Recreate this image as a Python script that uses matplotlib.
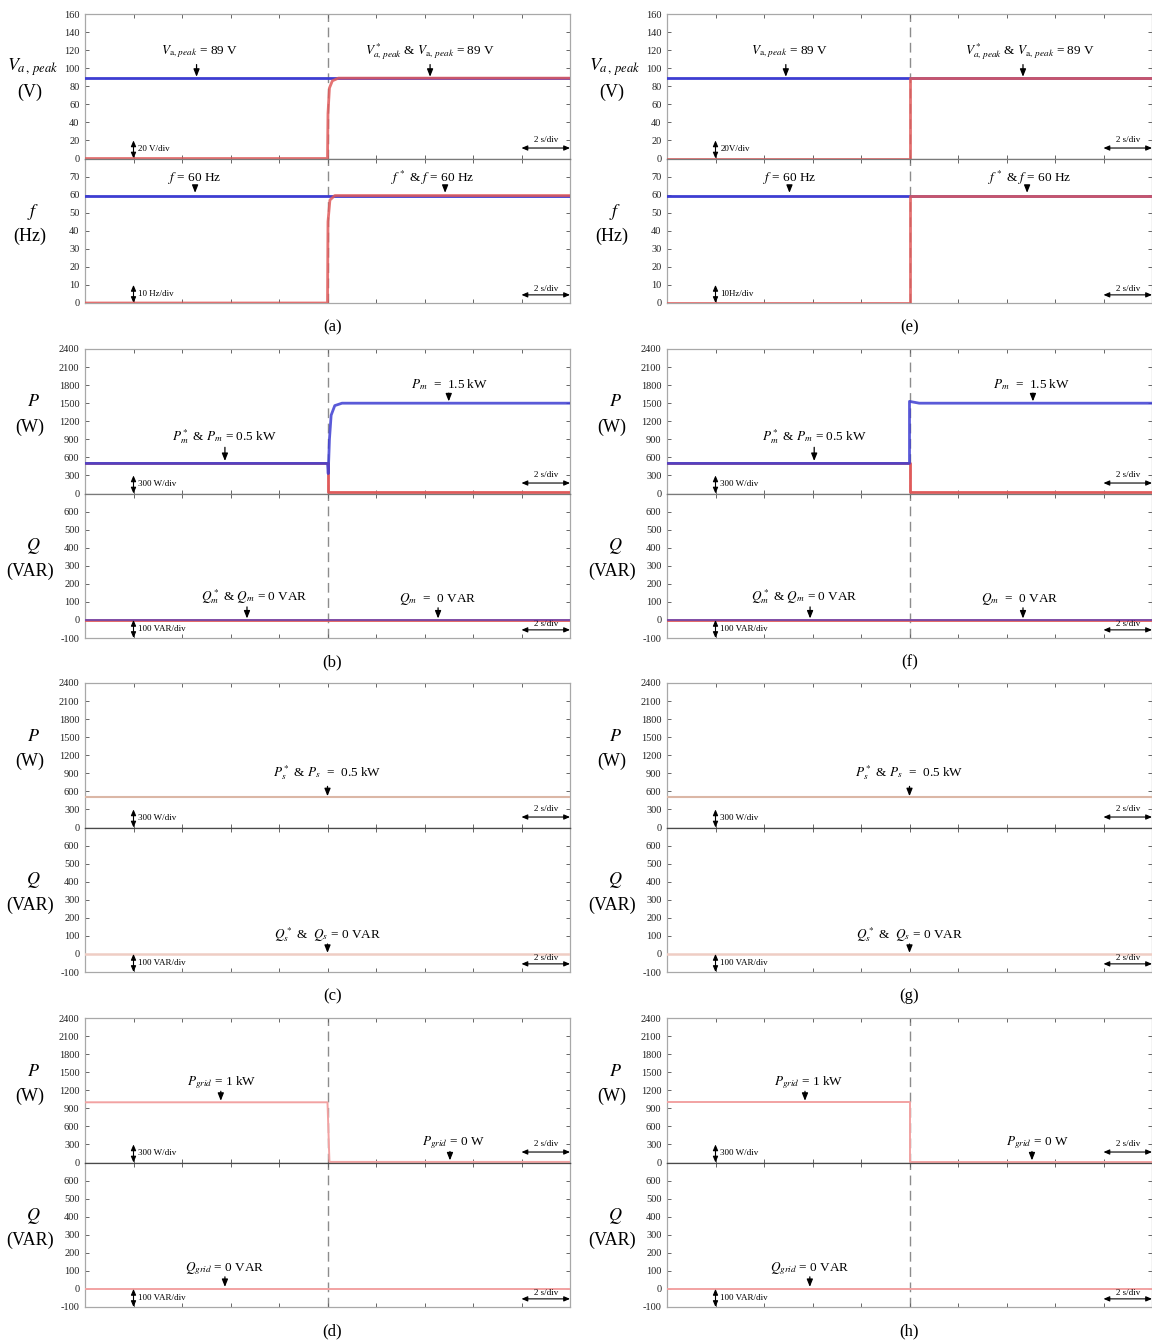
import matplotlib

matplotlib.use('Agg')

import matplotlib.pyplot as plt

plt.rcParams['font.family'] = ['Liberation Serif', 'DejaVu Serif']
plt.rcParams['mathtext.fontset'] = 'stix'

FIG_W, FIG_H = 1152, 1344

BLUE = '#3d3dd2'
RED = '#e05a5a'
TAN = '#dbb7a6'
PINK = '#f2a2a2'
QS_COL = '#efcdc4'

# time axis, 2 s/div, step change at t = 10 s
T_TICKS = [0, 2, 4, 6, 8, 10, 12, 14, 16, 18, 20]
T_STEP = 10

# y ticks of each sub-plot (8 divisions each)
V_TICKS = [0, 20, 40, 60, 80, 100, 120, 140, 160]
F_TICKS = [0, 10, 20, 30, 40, 50, 60, 70, 80]
P_TICKS = [0, 300, 600, 900, 1200, 1500, 1800, 2100, 2400]
Q_TICKS = [-100, 0, 100, 200, 300, 400, 500, 600, 700]

# (a)/(e) voltage amplitude and frequency
VA_T = [0, 20]
VA_MEAS = [89, 89]
VA_REF_T_A = [0, 10, 10.02, 10.08, 10.2, 10.45, 20]
VA_REF_A = [0, 0, 50, 78, 86, 89, 89]
VA_REF_T_E = [0, 10, 10, 20]
VA_REF_E = [0, 0, 89, 89]
F_T = [0, 20]
F_MEAS = [59.5, 59.5]
F_REF_T_A = [0, 10, 10.02, 10.1, 10.3, 20]
F_REF_A = [0, 0, 45, 57, 59.5, 59.5]
F_REF_T_E = [0, 10, 10, 20]
F_REF_E = [0, 0, 59.5, 59.5]

# (b)/(f) MG-side active / reactive power
PM_T_B = [0, 10, 10.03, 10.08, 10.15, 10.3, 10.6, 20]
PM_B = [500, 500, 330, 900, 1300, 1460, 1500, 1500]
PM_T_F = [0, 10, 10, 10.4, 20]
PM_F = [500, 500, 1530, 1500, 1500]
PM_REF_T = [0, 10, 10, 20]
PM_REF = [500, 500, 25, 25]
QM_T = [0, 20]
QM = [0, 0]

# (c)/(g) storage-side power
PS_T = [0, 20]
PS = [500, 500]
QS_T = [0, 20]
QS = [0, 0]

# (d)/(h) grid power
PG_T_D = [0, 10, 10.08, 20]
PG_T_H = [0, 10, 10, 20]
PG = [1000, 1000, 10, 10]
QG_T = [0, 20]
QG = [0, 0]

COL_X = [85, 667]
AX_W = 485
ROW_TOP = [14, 349, 683, 1018]
SUB_H = 144.5
LABEL_X = [30, 612]

fig = plt.figure(figsize=(FIG_W / 100, FIG_H / 100), dpi=100)
fig.patch.set_facecolor('white')


def make_ax(col, row, sub, ticks, step_line=True):
    top = ROW_TOP[row] + sub * SUB_H
    ax = fig.add_axes([COL_X[col] / FIG_W, 1 - (top + SUB_H) / FIG_H,
                       AX_W / FIG_W, SUB_H / FIG_H])
    ax.set_xlim(0, 20)
    ax.set_ylim(ticks[0], ticks[-1])
    ax.set_xticks(T_TICKS)
    ax.set_xticklabels([])
    ax.set_yticks(ticks)
    labels = [str(v) for v in ticks]
    if sub == 1:
        labels[-1] = ''
    ax.set_yticklabels(labels)
    ax.tick_params(direction='in', length=3, width=0.7, top=True, right=True,
                   labelsize=7.5, pad=4, color='#666666', labelcolor='#222222')
    for s in ax.spines.values():
        s.set_color('#a8a8a8')
        s.set_linewidth(0.9)
    # the shared zero/boundary line is drawn darker in the lower rows
    ax.spines['bottom' if sub == 0 else 'top'].set_color('#7a7a7a' if row < 2 else '#4a4a4a')
    if step_line:
        ax.axvline(T_STEP, color='#8c8c8c', lw=1.0, ls=(0, (7, 4)), zorder=1)
    return ax


def scale_marks(ax, label, sub):
    lo, hi = ax.get_ylim()
    div = (hi - lo) / 8
    arr = dict(arrowstyle='<|-|>,head_length=0.35,head_width=0.15',
               color='black', lw=0.8, shrinkA=0, shrinkB=0)
    ax.annotate('', xy=(2, lo + div), xytext=(2, lo), arrowprops=arr)
    ax.text(2.2, lo + 0.5 * div, label, fontsize=6.5, ha='left', va='center')
    ya, yt = (0.58, 1.0) if sub == 0 else (0.45, 0.78)
    ax.annotate('', xy=(20, lo + ya * div), xytext=(18, lo + ya * div), arrowprops=arr,
                annotation_clip=False)
    ax.text(19, lo + yt * div, '2 s/div', fontsize=6.5, ha='center', va='center')


def note(ax, text, tx, ty, ta, y0, y1):
    ax.text(tx, ty, text, fontsize=9.5, ha='center', va='center')
    ax.annotate('', xy=(ta, y1), xytext=(ta, y0),
                arrowprops=dict(arrowstyle='-|>,head_length=0.45,head_width=0.18',
                                color='black', lw=0.9, shrinkA=0, shrinkB=0))


def ylabels(col, row, top_sym, top_unit, bot_sym, bot_unit):
    x = LABEL_X[col]
    r = ROW_TOP[row]
    for sym, unit, dy in [(top_sym, top_unit, 0), (bot_sym, bot_unit, SUB_H)]:
        fig.text((x + 3) / FIG_W, 1 - (r + 53 + dy) / FIG_H, sym, fontsize=13,
                 ha='center', va='center')
        fig.text(x / FIG_W, 1 - (r + 78 + dy) / FIG_H, unit, fontsize=13,
                 ha='center', va='center')


def panel_label(col, row, text):
    x = COL_X[col] + AX_W / 2 + (5 if col == 0 else 0)
    fig.text(x / FIG_W, 1 - (ROW_TOP[row] + 313) / FIG_H, text, fontsize=12,
             ha='center', va='center')


VA_LBL = r'$V_{\mathrm{a},\,peak}$ = 89 V'
VA2_LBL = r'$V^*_{a,\,peak}$ & $V_{\mathrm{a},\,peak}$ = 89 V'

for col in range(2):
    soft = col == 0
    off = 0 if soft else 0.3

    # row 0: voltage / frequency
    ax = make_ax(col, 0, 0, V_TICKS)
    ax.plot(VA_T, VA_MEAS, color=BLUE, lw=2.0, zorder=3)
    ax.plot(VA_REF_T_A if soft else VA_REF_T_E, VA_REF_A if soft else VA_REF_E,
            color=RED, lw=2.0, alpha=0.85, zorder=4)
    scale_marks(ax, '20 V/div' if soft else '20V/div', 0)
    note(ax, VA_LBL, 4.74 + off, 118, 4.6 + off, 104, 90.5)
    note(ax, VA2_LBL, 14.23 + off * 2.5, 118, 14.23 + off * 1.5, 104, 90.5)

    ax = make_ax(col, 0, 1, F_TICKS)
    ax.plot(F_T, F_MEAS, color=BLUE, lw=2.0, zorder=3)
    ax.plot(F_REF_T_A if soft else F_REF_T_E, F_REF_A if soft else F_REF_E,
            color=RED, lw=2.0, alpha=0.85, zorder=4)
    scale_marks(ax, '10 Hz/div' if soft else '10Hz/div', 1)
    note(ax, r'$f$ = 60 Hz', 4.54 + off * 1.7, 69.4, 4.54 + off * 1.7, 65, 61)
    note(ax, r'$f^*$ & $f$ = 60 Hz', 14.35 + off * 2, 69.4, 14.85, 65, 61)
    ylabels(col, 0, r'$V_{a\,,\,peak}$', '(V)', r'$f$', '(Hz)')
    panel_label(col, 0, '(a)' if soft else '(e)')

    # row 1: MG-side power
    ax = make_ax(col, 1, 0, P_TICKS)
    ax.plot(PM_REF_T, PM_REF, color=RED, lw=2.0, zorder=3)
    ax.plot(PM_T_B if soft else PM_T_F, PM_B if soft else PM_F,
            color=BLUE, lw=2.0, alpha=0.85, zorder=4)
    scale_marks(ax, '300 W/div', 0)
    note(ax, r'$P_m^*$ & $P_m$ = 0.5 kW', 5.77 + off, 950, 5.77 + off, 767, 540)
    note(ax, r'$P_m$  =  1.5 kW', 15.05, 1817, 15.0 + off * 0.3, 1667, 1530)

    ax = make_ax(col, 1, 1, Q_TICKS)
    ax.plot(QM_T, QM, color=RED, lw=2.0, zorder=3)
    ax.plot(QM_T, QM, color=BLUE, lw=1.4, alpha=0.6, zorder=4)
    scale_marks(ax, '100 VAR/div', 1)
    note(ax, r'$Q_m^*$ & $Q_m$ = 0 VAR', 7.0 - off * 4.5, 128, 6.68 - off * 2.6, 72, 8)
    note(ax, r'$Q_m$  =  0 VAR', 14.56, 117, 14.56 + off * 0.4, 67, 8)
    ylabels(col, 1, r'$P$', '(W)', r'$Q$', '(VAR)')
    panel_label(col, 1, '(b)' if soft else '(f)')

    # row 2: storage-side power (no step marker here)
    ax = make_ax(col, 2, 0, P_TICKS, step_line=False)
    ax.plot(PS_T, PS, color=TAN, lw=1.5, zorder=3)
    scale_marks(ax, '300 W/div', 0)
    note(ax, r'$P_s^*$ & $P_s$  =  0.5 kW', 10.0, 917, 10.0, 683, 520)

    ax = make_ax(col, 2, 1, Q_TICKS, step_line=False)
    ax.plot(QS_T, QS, color=QS_COL, lw=1.8, zorder=3)
    scale_marks(ax, '100 VAR/div', 1)
    note(ax, r'$Q_s^*$ &  $Q_s$ = 0 VAR', 10.0, 106, 10.0, 55, 6)
    ylabels(col, 2, r'$P$', '(W)', r'$Q$', '(VAR)')
    panel_label(col, 2, '(c)' if soft else '(g)')

    # row 3: grid power
    ax = make_ax(col, 3, 0, P_TICKS)
    ax.plot(PG_T_D if soft else PG_T_H, PG, color=PINK, lw=1.4, zorder=3)
    scale_marks(ax, '300 W/div', 0)
    note(ax, r'$P_{grid}$ = 1 kW', 5.65 + off * 0.7, 1333, 5.6 + off * 0.3, 1183, 1025)
    note(ax, r'$P_{grid}$ = 0 W', 15.18 + off * 0.3, 333, 15.05, 183, 35)

    ax = make_ax(col, 3, 1, Q_TICKS)
    ax.plot(QG_T, QG, color=PINK, lw=1.4, zorder=3)
    scale_marks(ax, '100 VAR/div', 1)
    note(ax, r'$Q_{grid}$ = 0 VAR', 5.77 + off * 0.4, 111, 5.77 + off * 0.4, 67, 11)
    ylabels(col, 3, r'$P$', '(W)', r'$Q$', '(VAR)')
    panel_label(col, 3, '(d)' if soft else '(h)')

fig.savefig('out.png', dpi=100, facecolor='white')
